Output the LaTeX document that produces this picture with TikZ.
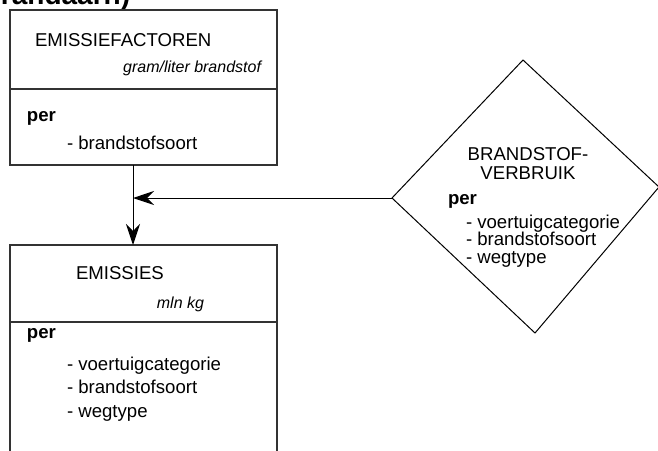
\documentclass[tikz,border=0pt]{standalone}
\usepackage{fontspec}
\setmainfont{Liberation Sans}
\usetikzlibrary{arrows.meta}

\begin{document}
\begin{tikzpicture}[x=1pt,y=-1pt]
   \tikzstyle{every node}=[inner sep=0pt, outer sep=0pt, font=\fontsize{18.6}{23.5}\selectfont]
   \tikzstyle{blok}=[draw=black!80, line width=1.2pt, minimum width=267pt, anchor=north west]
   \tikzstyle{eenheid}=[anchor=base east, font=\itshape\fontsize{16}{19}\selectfont]
   \tikzstyle{regel}=[anchor=base west]
   \tikzstyle{vet}=[anchor=base west, font=\bfseries\fontsize{18.6}{23.5}\selectfont]
   \tikzstyle{pijl}=[-{Stealth[length=21pt, width=14pt, inset=7pt]}]

\useasboundingbox (0,0) rectangle (658,450);

\node[regel, font=\bfseries\fontsize{28}{28}\selectfont] (kop) at (1,4) {randaarn)};

% bovenste blok
\node[blok, minimum height=155pt] (factoren) at (10,10) {};
\draw[draw=black!80, line width=1.2pt] (10,89) -- (277,89);
\node[regel] (factoren-naam) at (35,46) {EMISSIEFACTOREN};
\node[eenheid] (factoren-eenheid) at (261,72) {gram/liter brandstof};
\node[vet] (factoren-per) at (27,121) {per};
\node[regel] (factoren-1) at (67,149) {- brandstofsoort};

% onderste blok
\node[blok, minimum height=240pt] (emissies) at (10,245) {};
\draw[draw=black!80, line width=1.2pt] (10,322) -- (277,322);
\node[regel] (emissies-naam) at (76,279) {EMISSIES};
\node[eenheid] (emissies-eenheid) at (204,308) {mln kg};
\node[vet] (emissies-per) at (27,338) {per};
\node[regel] (emissies-1) at (67,370) {- voertuigcategorie};
\node[regel] (emissies-2) at (67,393) {- brandstofsoort};
\node[regel] (emissies-3) at (67,417) {- wegtype};

% ruit
\draw[line width=1pt] (523,60) coordinate (vb-n) -- (659,187) coordinate (vb-o)
   -- (535,333) coordinate (vb-z) -- (392,198) coordinate (vb-w) -- cycle;
\node[anchor=base] (verbruik-1) at (528,160) {BRANDSTOF-};
\node[anchor=base] (verbruik-2) at (528,179) {VERBRUIK};
\node[vet] (verbruik-per) at (448,204) {per};
\node[regel] (verbruik-a) at (466,228) {- voertuigcategorie};
\node[regel] (verbruik-b) at (466,245.5) {- brandstofsoort};
\node[regel] (verbruik-c) at (466,263) {- wegtype};

% pijlen
\coordinate (knik) at (133,198);
\draw[line width=1pt] (factoren.south -| knik) -- (knik);
\draw[pijl, line width=1pt] (knik) -- (emissies.north -| knik);
\draw[pijl, line width=1pt] (vb-w) -- (knik);

\end{tikzpicture}
\end{document}
